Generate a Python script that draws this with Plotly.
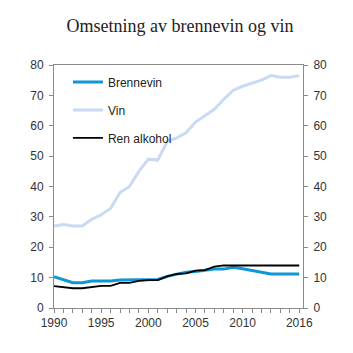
import plotly.graph_objects as go

years = list(range(1990, 2017))
brennevin = [10.3, 9.3, 8.3, 8.3, 8.9, 8.9, 8.9, 9.2, 9.2, 9.3, 9.4, 9.4, 10.4, 11.2, 11.8, 12.0, 12.3, 12.8, 12.8, 13.4, 12.9, 12.3, 11.8, 11.2, 11.2, 11.2, 11.2]
vin = [27.0, 27.5, 27.0, 27.0, 29.2, 30.7, 32.8, 38.0, 40.0, 45.0, 49.0, 48.7, 54.8, 56.0, 57.7, 61.2, 63.3, 65.4, 68.7, 71.7, 73.0, 74.0, 75.0, 76.5, 76.0, 76.0, 76.5]
ren_alkohol = [7.2, 6.8, 6.5, 6.5, 6.8, 7.3, 7.3, 8.3, 8.3, 8.9, 9.2, 9.2, 10.4, 11.2, 11.4, 12.3, 12.5, 13.6, 14.0, 14.0, 14.0, 14.0, 14.0, 14.0, 14.0, 14.0, 14.0]
labels = {1990: "1990", 1995: "1995", 2000: "2000", 2005: "2005", 2010: "2010", 2016: "2016"}
yticks = [0, 10, 20, 30, 40, 50, 60, 70, 80]
series_names = ["Brennevin", "Vin", "Ren alkohol"]

fig = go.Figure()
fig.add_trace(go.Scatter(x=years, y=brennevin, name=series_names[0], mode="lines",
                         line=dict(color="#0f96d6", width=3), legendgroup="a"))
fig.add_trace(go.Scatter(x=years, y=vin, name=series_names[1], mode="lines",
                         line=dict(color="#c9daf2", width=3), legendgroup="b"))
fig.add_trace(go.Scatter(x=years, y=ren_alkohol, name=series_names[2], mode="lines",
                         line=dict(color="#000000", width=1.8), legendgroup="c"))
# invisible copy on the secondary axis so the right-hand axis is drawn
fig.add_trace(go.Scatter(x=years, y=vin, yaxis="y2", mode="lines", showlegend=False,
                         hoverinfo="skip", opacity=0, line=dict(width=0)))

axis_col = "#8a8a8a"
fig.update_layout(
    width=353, height=353,
    margin=dict(l=54, r=50, t=65, b=45),
    paper_bgcolor="white", plot_bgcolor="white",
    font=dict(family="Liberation Sans, Arial, sans-serif", size=12, color="#333333"),
    title=dict(text="Omsetning av brennevin og vin", x=0.51, xanchor="center",
               y=1 - 26 / 353, yanchor="middle", yref="container",
               font=dict(family="Liberation Serif, Times New Roman, serif", size=18, color="#222222")),
    showlegend=True,
    legend=dict(x=0.056, y=0.99, xanchor="left", yanchor="top", bgcolor="rgba(0,0,0,0)",
                font=dict(size=12, color="#222222"), tracegroupgap=9),
    xaxis=dict(range=[1990, 2016.4], tickvals=years,
               ticktext=[labels.get(y, "") for y in years],
               ticks="outside", ticklen=4, tickcolor=axis_col, showline=True, linecolor=axis_col,
               linewidth=1, mirror=True, showgrid=False, zeroline=False, tickangle=0),
    yaxis=dict(range=[0, 80], tickvals=yticks, ticks="outside", ticklen=4, tickcolor=axis_col,
               showline=True, linecolor=axis_col, linewidth=1, showgrid=False, zeroline=False,
               ticklabelstandoff=3),
    yaxis2=dict(range=[0, 80], tickvals=yticks, ticks="outside", ticklen=4, tickcolor=axis_col,
                showline=True, linecolor=axis_col, linewidth=1, showgrid=False, zeroline=False,
                overlaying="y", side="right", ticklabelstandoff=3),
)

fig.write_html("out.html")
